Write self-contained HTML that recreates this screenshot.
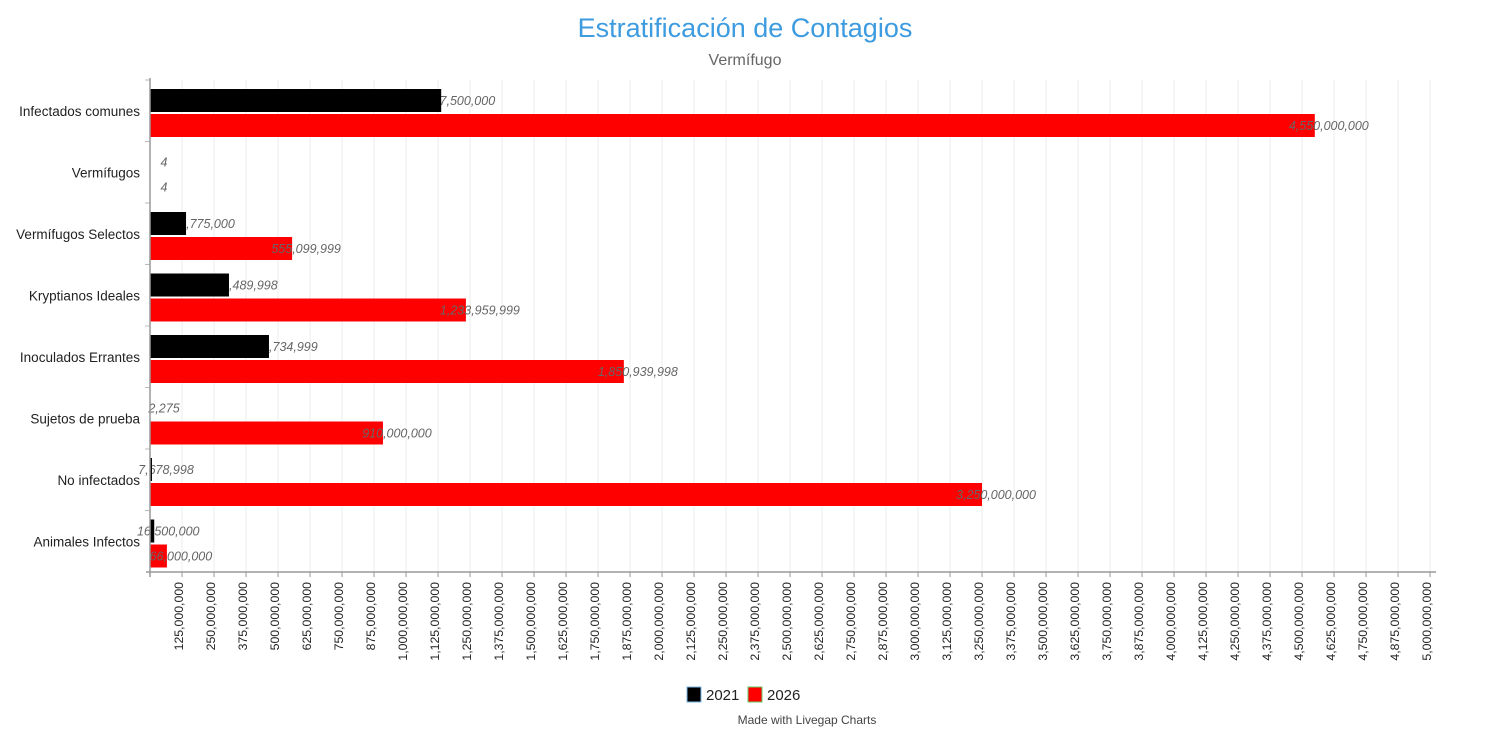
<!DOCTYPE html>
<html><head><meta charset="utf-8"><style>
body{margin:0;background:#fff;font-family:"Liberation Sans",sans-serif;}
svg{display:block}
</style></head><body>
<svg id="chart" width="1490" height="740">
<text x="745" y="37" text-anchor="middle" font-size="27" fill="#3d9be0">Estratificación de Contagios</text>
<text x="745" y="65" text-anchor="middle" font-size="16" fill="#666">Vermífugo</text>
<g id="grid"></g><g id="bars"></g><g id="labels"></g><g id="bars2"></g><g id="axes"></g>
<g>
<rect x="687" y="687" width="14" height="15" fill="#000" stroke="#7ab8e8" stroke-width="1"/>
<text x="706" y="700" font-size="15" fill="#222">2021</text>
<rect x="748" y="687" width="14" height="15" fill="#f00" stroke="#6c6" stroke-width="1"/>
<text x="767" y="700" font-size="15" fill="#222">2026</text>
</g>
<text x="807" y="724" text-anchor="middle" font-size="12" fill="#444">Made with Livegap Charts</text>
</svg>
<script>
const categories=["Infectados comunes","Vermífugos","Vermífugos Selectos","Kryptianos Ideales","Inoculados Errantes","Sujetos de prueba","No infectados","Animales Infectos"];
const series2021=[1137500000,4,140775000,308489998,464734999,2275,7678998,16500000];
const series2026=[4550000000,4,555099999,1233959999,1850939998,910000000,3250000000,66000000];
const tickValues=[125e6,250e6,375e6,500e6,625e6,750e6,875e6,1000e6,1125e6,1250e6,1375e6,1500e6,1625e6,1750e6,1875e6,2000e6,2125e6,2250e6,2375e6,2500e6,2625e6,2750e6,2875e6,3000e6,3125e6,3250e6,3375e6,3500e6,3625e6,3750e6,3875e6,4000e6,4125e6,4250e6,4375e6,4500e6,4625e6,4750e6,4875e6,5000e6];
const NS="http://www.w3.org/2000/svg";
const X0=150,X1=1430,XMAX=5e9,Y0=80,Y1=572;
const xs=v=>X0+v/XMAX*(X1-X0);
const band=(Y1-Y0)/categories.length;
const fmt=v=>v.toLocaleString("en-US");
function mk(t,a,p){const e=document.createElementNS(NS,t);for(const k in a)e.setAttribute(k,a[k]);p.appendChild(e);return e;}
const grid=document.getElementById("grid"),bars=document.getElementById("bars"),bars2=document.getElementById("bars2"),labels=document.getElementById("labels"),axes=document.getElementById("axes");
tickValues.forEach(v=>{
  const x=xs(v);
  const g=mk("line",{x1:x,x2:x,y1:Y0,y2:Y1,stroke:"#ededed","stroke-width":1},grid);
  
  
  mk("line",{x1:x,x2:x,y1:Y1,y2:Y1+5,stroke:"#999"},axes);
  const t=mk("text",{x:0,y:0,"font-size":12.3,fill:"#222","text-anchor":"end",transform:`translate(${x+1},${Y1+10}) rotate(-90)`},axes);
  t.textContent=fmt(v);
  
  
});
categories.forEach((c,i)=>{
  const by=Y0+i*band;
  [[series2021,"#000",0,"2021",bars2],[series2026,"#f00",1,"2026",bars]].forEach(([s,col,k,nm,grp])=>{
    const y=by+9+k*25;
    const r=mk("rect",{x:X0,y:y,width:Math.max(0,xs(s[i])-X0),height:23,fill:col},grp);
    
    
    const t=mk("text",{x:xs(s[i])+14,y:y+16,"text-anchor":"middle","font-size":12.5,"font-style":"italic",fill:"#666"},labels);
    t.textContent=fmt(s[i]);
    
    
  });
  const t=mk("text",{x:140,y:by+band/2+5,"text-anchor":"end","font-size":13.5,fill:"#222"},axes);
  t.textContent=c;
  
  
  mk("line",{x1:145,x2:150,y1:by,y2:by,stroke:"#bbb"},axes);
});
const xa=mk("line",{x1:X0-4,x2:1436,y1:Y1,y2:Y1,stroke:"#999","stroke-width":1.5},axes);


const ya=mk("line",{x1:X0,x2:X0,y1:Y0-2,y2:Y1+5,stroke:"#999","stroke-width":1.5},axes);


</script>
</body></html>
